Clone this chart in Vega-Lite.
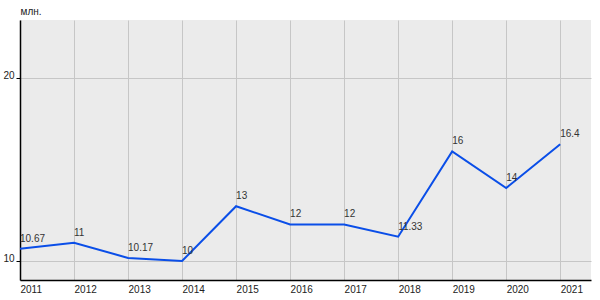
{
  "$schema": "https://vega.github.io/schema/vega-lite/v6.json",
  "autosize": {"type": "none"},
  "width": 571,
  "height": 260,
  "padding": {"left": 20, "top": 20, "right": 9, "bottom": 20},
  "background": "white",
  "config": {
    "view": {"fill": "#ebebeb", "stroke": null},
    "font": "Liberation Sans Narrow, Liberation Sans"
  },
  "data": {
    "values": [
      {"year": 2011, "value": 10.67, "label": "10.67"},
      {"year": 2012, "value": 11, "label": "11"},
      {"year": 2013, "value": 10.17, "label": "10.17"},
      {"year": 2014, "value": 10, "label": "10"},
      {"year": 2015, "value": 13, "label": "13"},
      {"year": 2016, "value": 12, "label": "12"},
      {"year": 2017, "value": 12, "label": "12"},
      {"year": 2018, "value": 11.33, "label": "11.33"},
      {"year": 2019, "value": 16, "label": "16"},
      {"year": 2020, "value": 14, "label": "14"},
      {"year": 2021, "value": 16.4, "label": "16.4"}
    ]
  },
  "encoding": {
    "x": {
      "field": "year",
      "type": "quantitative",
      "scale": {"domain": [2011, 2021.57], "nice": false, "zero": false},
      "axis": {
        "title": null,
        "values": [2011, 2012, 2013, 2014, 2015, 2016, 2017, 2018, 2019, 2020, 2021],
        "format": "d",
        "labelAlign": "left",
        "labelBaseline": "top",
        "labelPadding": 4,
        "labelFontSize": 10,
        "labelColor": "#222222",
        "ticks": false,
        "domainColor": "#000000",
        "domainWidth": 1.5,
        "grid": true,
        "gridColor": "#c6c6c6",
        "gridWidth": 1,
        "labelFlush": false,
        "labelOverlap": false
      }
    },
    "y": {
      "field": "value",
      "type": "quantitative",
      "scale": {"domain": [8.96, 23.2], "nice": false, "zero": false},
      "axis": {
        "title": "млн.",
        "titleAngle": 0,
        "titleAlign": "left",
        "titleBaseline": "alphabetic",
        "titleX": 0,
        "titleY": -6,
        "titleFontSize": 10,
        "titleFontWeight": "normal",
        "titleColor": "#222222",
        "values": [10, 20],
        "labelBaseline": "alphabetic",
        "labelPadding": 2,
        "labelFontSize": 10,
        "labelColor": "#222222",
        "tickSize": 4,
        "tickColor": "#000000",
        "domainColor": "#000000",
        "domainWidth": 1.5,
        "grid": true,
        "gridColor": "#c6c6c6",
        "gridWidth": 1
      }
    }
  },
  "layer": [
    {
      "mark": {"type": "line", "color": "#0a4ee8", "strokeWidth": 2}
    },
    {
      "mark": {"type": "text", "align": "left", "baseline": "alphabetic", "dy": -7, "fontSize": 10, "color": "#333333"},
      "encoding": {"text": {"field": "label"}}
    }
  ]
}
